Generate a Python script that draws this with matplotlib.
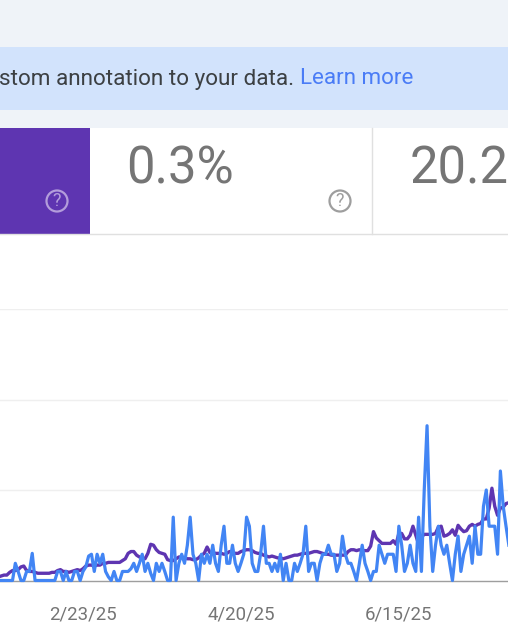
import pandas as pd
import matplotlib.pyplot as plt
from matplotlib.patches import Rectangle, Circle

plt.rcParams['font.family'] = ['Roboto', 'DejaVu Sans']

W, H = 508, 641

start_date = "2025-01-24"
tick_dates = ["2025-02-23", "2025-04-20", "2025-06-15"]
tick_labels = ["2/23/25", "4/20/25", "6/15/25"]

# daily values, gridlines are one unit apart
blue = [
    0, 0, 0, 0, 0, 0, .19, .10, 0, 0,
    .10, .10, .30, 0, 0, 0, 0, 0, 0, 0,
    0, .10, .10, 0, .10, 0, 0, .10, .10, 0,
    .10, .15, .27, .29, .10, .29, .19, .29, .10, .04,
    0, .10, 0, 0, .10, .10, .10, .13, .19, .10,
    .19, .29, .10, .19, .08, 0, .19, .10, .19, .10,
    0, 0, .70, 0, .19, .29, .19, .39, .70, .29,
    .19, 0, .29, .19, .29, .19, .39, .19, .10, .39,
    .60, .19, .19, .39, .19, .10, .19, .29, .70, .60,
    .19, .10, .10, .30, .60, .19, .19, .10, .19, .10,
    .29, 0, .19, 0, 0, .19, .10, .19, .29, .60,
    .10, .19, .19, 0, .19, .29, .29, .39, .29, .29,
    .10, .19, .49, .29, .19, .19, .10, 0, .19, .39,
    .19, .10, 0, .10, .10, .39, .29, .19, .29, .29,
    .29, .10, .60, .39, .10, .19, .39, .19, .10, .70,
    .10, 1.0, 1.71, .60, .10, .39, .60, .39, .29, .39,
    .19, 0, .29, .49, .10, .29, .39, .49, .19, .60,
    .29, .29, .82, 1.0, .60, .60, .60, .29, 1.21, .82,
    .60, .39,
]
purple = [
    .04, .05, .06, .06, .09, .11, .11, .12, .15, .16,
    .11, .10, .10, .09, .08, .08, .08, .08, .08, .09,
    .09, .11, .12, .10, .10, .09, .10, .11, .12, .11,
    .13, .16, .17, .17, .16, .17, .17, .19, .19, .20,
    .20, .20, .20, .20, .22, .24, .30, .32, .32, .28,
    .26, .25, .24, .30, .40, .39, .34, .31, .30, .29,
    .23, .22, .22, .24, .26, .26, .25, .24, .24, .23,
    .23, .25, .28, .30, .37, .31, .31, .30, .30, .30,
    .29, .30, .32, .31, .30, .30, .32, .33, .34, .34,
    .33, .31, .30, .30, .28, .27, .26, .27, .26, .25,
    .25, .24, .25, .26, .27, .28, .28, .29, .30, .30,
    .30, .31, .32, .32, .31, .30, .29, .29, .28, .28,
    .28, .28, .28, .28, .32, .34, .34, .33, .34, .33,
    .33, .33, .38, .54, .47, .44, .41, .41, .41, .41,
    .44, .40, .52, .52, .46, .46, .50, .60, .50, .40,
    .48, .51, .51, .51, .51, .52, .59, .60, .49, .50,
    .52, .56, .50, .61, .57, .54, .55, .60, .62, .60,
    .62, .63, .68, .68, .80, 1.02, .82, .72, .80, .81,
    .85, .86,
]
dates = pd.date_range(start_date, periods=len(blue), freq="D")

fig = plt.figure(figsize=(W / 100, H / 100), dpi=100, facecolor="white")

# page furniture, in pixel coordinates
bg = fig.add_axes([0, 0, 1, 1])
bg.set_xlim(0, W)
bg.set_ylim(H, 0)
bg.axis("off")
bg.add_patch(Rectangle((0, 0), W, 128, color="#eff3f8", lw=0))
bg.add_patch(Rectangle((0, 47), W, 63, color="#d2e3fc", lw=0))
bg.add_patch(Rectangle((0, 128), W, 106, color="white", lw=0))
bg.add_patch(Rectangle((0, 128), 89.5, 106, color="#5e35b1", lw=0))
bg.plot([372, 372], [128, 234], color="#e0e0e0", lw=1)
bg.plot([0, W], [234, 234], color="#e0e0e0", lw=1)

bg.text(-1, 79, "stom annotation to your data.", fontsize=16.2, color="#3c4043",
        va="center", ha="left")
bg.text(300, 79, "Learn more", fontsize=16.1, color="#4a7cf6", va="center", ha="left")
bg.text(126, 170, "0.3%", fontsize=36.5, color="#757575", va="center", ha="left")
bg.text(410, 170, "20.2", fontsize=36.5, color="#757575", va="center", ha="left")

for cx, col in [(57, "#b39ddb"), (340, "#9e9e9e")]:
    bg.add_patch(Circle((cx, 201), 10.5, fill=False, ec=col, lw=1.6))
    bg.text(cx, 201.5, "?", fontsize=13, color=col, ha="center", va="center")

# chart
ax = fig.add_axes([0, (H - 580.5) / H, 1, (580.5 - 309) / H], facecolor="none")
ax.set_ylim(0, 3)
ax.set_xlim(pd.Timestamp(tick_dates[0]) - pd.Timedelta(days=29.43),
            pd.Timestamp(tick_dates[0]) + pd.Timedelta(days=150.7))
ax.plot(dates, purple, color="#5e35b1", lw=2.4, clip_on=False, zorder=3)
ax.plot(dates, blue, color="#4285f4", lw=2.3, clip_on=False, zorder=4)

ax.set_yticks([1, 2, 3])
ax.set_yticklabels([])
ax.grid(axis="y", color="#efefef", lw=1)
ax.set_axisbelow(True)
ax.set_xticks(pd.to_datetime(tick_dates))
ax.set_xticklabels(tick_labels, fontsize=13.4, color="#757575")
ax.tick_params(axis="both", length=0)
ax.tick_params(axis="x", pad=18)
for s in ["top", "left", "right"]:
    ax.spines[s].set_visible(False)
ax.spines["bottom"].set_color("#9e9e9e")
ax.spines["bottom"].set_linewidth(1)

fig.savefig("out.png", dpi=100)
